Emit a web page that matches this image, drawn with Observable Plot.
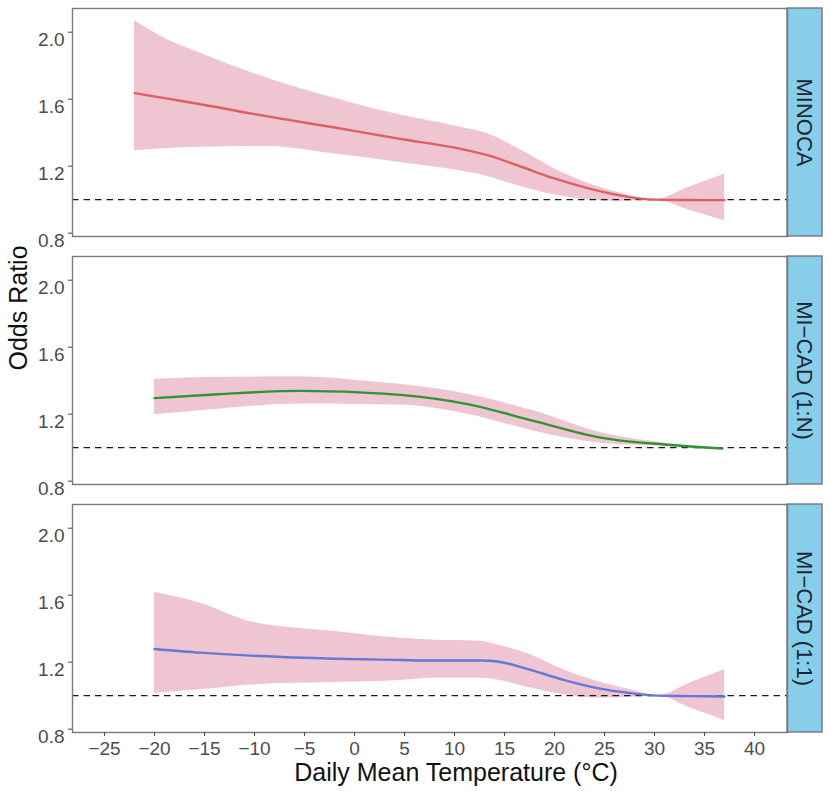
<!DOCTYPE html>
<html>
<head>
<meta charset="utf-8">
<script src="https://cdn.jsdelivr.net/npm/d3@7"></script>
<script src="https://cdn.jsdelivr.net/npm/@observablehq/plot@0.6"></script>
<style>
  body { margin: 0; background: #fff; }
  #chart svg { display: block; }
</style>
</head>
<body>
<div id="chart"></div>
<script>
// ---- data ----
const panels = ["MINOCA", "MI−CAD (1:N)", "MI−CAD (1:1)"];
const lineColors = ["#DC625F", "#2E9432", "#6678D4"];
const xTicks = [-25, -20, -15, -10, -5, 0, 5, 10, 15, 20, 25, 30, 35, 40];
const yTicks = [0.8, 1.2, 1.6, 2.0];
const refOR = 1;

const minocaTemp  = [-22, -18.7, -15.4, -8.7, -2, 4.6, 9.9, 13.3, 16.6, 19.9, 23.3, 26.6, 30, 33.5, 37];
const minocaOR    = [1.636, 1.603, 1.570, 1.497, 1.431, 1.362, 1.312, 1.266, 1.198, 1.128, 1.069, 1.025, 1.0, 0.998, 0.997];
const minocaLower = [1.292, 1.305, 1.313, 1.318, 1.272, 1.222, 1.178, 1.139, 1.079, 1.029, 0.999, 0.990, 1.0, 0.937, 0.874];
const minocaUpper = [2.068, 1.955, 1.875, 1.725, 1.606, 1.505, 1.442, 1.393, 1.298, 1.188, 1.099, 1.039, 1.0, 1.076, 1.152];

const cad1nTemp  = [-20, -13.7, -5.4, 0.5, 4.6, 11.3, 17.9, 24.6, 31.3, 36.8];
const cad1nOR    = [1.296, 1.319, 1.339, 1.330, 1.315, 1.260, 1.160, 1.060, 1.017, 0.995];
const cad1nLower = [1.196, 1.230, 1.260, 1.258, 1.255, 1.200, 1.100, 1.027, 1.008, 0.990];
const cad1nUpper = [1.409, 1.420, 1.423, 1.400, 1.378, 1.319, 1.220, 1.090, 1.025, 1.000];

const cad11Temp  = [-20, -15.4, -10.4, -2, 4.6, 7.6, 12.6, 14.3, 17.6, 20.9, 24.3, 27.6, 30.3, 33.6, 37];
const cad11OR    = [1.279, 1.257, 1.239, 1.220, 1.213, 1.210, 1.210, 1.204, 1.154, 1.094, 1.045, 1.015, 1.0, 0.997, 0.995];
const cad11Lower = [1.015, 1.035, 1.064, 1.078, 1.090, 1.104, 1.104, 1.094, 1.045, 1.005, 0.985, 0.990, 1.0, 0.926, 0.851];
const cad11Upper = [1.618, 1.552, 1.442, 1.383, 1.343, 1.333, 1.325, 1.303, 1.244, 1.154, 1.084, 1.035, 1.0, 1.077, 1.154];

const xDomain = [-28.2, 43.3];
const yDomain = [0.78, 2.1415];
const stripWidth = 3.5; // in x units (beyond the panel)

// ---- tidy table ----
const series = [
  [panels[0], minocaTemp, minocaOR, minocaLower, minocaUpper],
  [panels[1], cad1nTemp, cad1nOR, cad1nLower, cad1nUpper],
  [panels[2], cad11Temp, cad11OR, cad11Lower, cad11Upper]
];
const rows = series.flatMap(([panel, t, o, lo, hi]) =>
  t.map((temp, i) => ({panel, temp, or: o[i], lower: lo[i], upper: hi[i]}))
);

const font = "'Liberation Sans', Arial, Helvetica, sans-serif";

const chart = Plot.plot({
  width: 831,
  height: 791,
  marginTop: 7,
  marginBottom: 59,
  marginLeft: 72,
  marginRight: 44,
  style: {fontFamily: font, background: "#fff", overflow: "visible"},
  x: {domain: xDomain, label: null},
  y: {domain: yDomain, label: null},
  fy: {domain: panels, axis: null, paddingInner: 0.0825, paddingOuter: 0, label: null},
  color: {type: "ordinal", domain: panels, range: lineColors},
  marks: [
    Plot.areaY(rows, {
      x: "temp", y1: "lower", y2: "upper", fy: "panel",
      fill: "#EFC5D2", curve: "monotone-x"
    }),
    Plot.ruleY([refOR], {stroke: "#1a1a1a", strokeWidth: 1.3, strokeDasharray: "6.5,5"}),
    Plot.line(rows, {
      x: "temp", y: "or", fy: "panel", stroke: "panel",
      strokeWidth: 2.4, curve: "monotone-x"
    }),
    // facet strips
    Plot.rect(panels, {
      fy: d => d,
      x1: () => xDomain[1], x2: () => xDomain[1] + stripWidth,
      y1: () => yDomain[0], y2: () => yDomain[1],
      fill: "#87CEEB", stroke: "#6e6e6e", strokeWidth: 1.3
    }),
    Plot.text(panels, {
      fy: d => d, text: d => d,
      x: () => xDomain[1] + stripWidth / 2 - 0.1,
      frameAnchor: "middle",
      rotate: 90, fontSize: 22, fill: "#1c2733"
    }),
    Plot.frame({stroke: "#7a7a7a", strokeWidth: 1.4}),
    // axes
    Plot.axisY(yTicks, {tickSize: 4, fill: "none", stroke: "#444", label: null}),
    Plot.axisY(yTicks, {
      tickSize: 0, tickPadding: 8, dy: 8, fontSize: 19,
      fill: "#4d4d4d", tickFormat: d => d.toFixed(1), label: null
    }),
    Plot.axisX(xTicks, {
      tickSize: 4, tickPadding: 5, fontSize: 19,
      fill: "#4d4d4d", stroke: "#444", label: null
    }),
    // axis titles
    Plot.text(["Odds Ratio"], {
      fy: () => panels[1], frameAnchor: "left", dx: -54,
      rotate: -90, fontSize: 25, fill: "#111"
    }),
    Plot.text(["Daily Mean Temperature (°C)"], {
      fy: () => panels[2], frameAnchor: "bottom", dx: 26, dy: 40,
      lineAnchor: "middle", fontSize: 25, fill: "#111"
    })
  ]
});

document.getElementById("chart").appendChild(chart);
</script>
</body>
</html>
